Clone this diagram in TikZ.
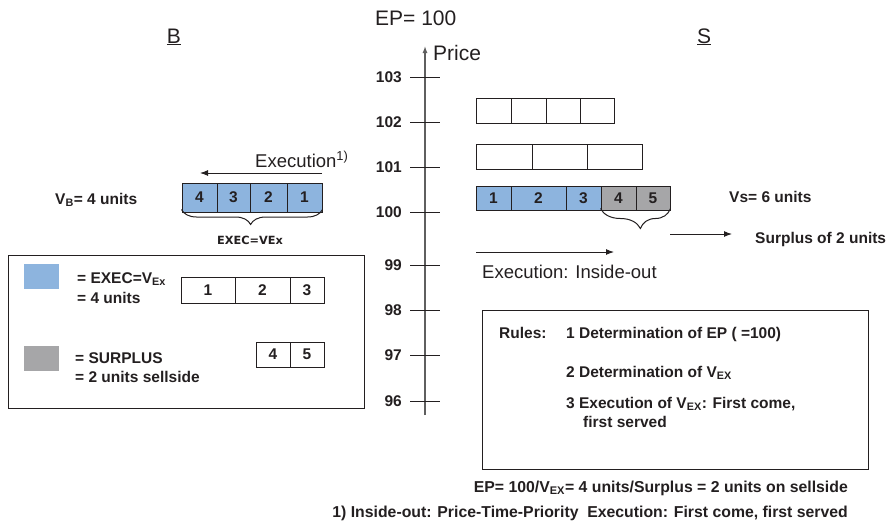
\documentclass[tikz,border=0pt]{standalone}
\usepackage{fontspec}
\setmainfont{Liberation Sans}
\newfontfamily\smallbold{DejaVu Sans}
\usetikzlibrary{arrows.meta,decorations.pathreplacing}
\definecolor{ink}{RGB}{35,31,32}
\definecolor{execblue}{RGB}{141,180,222}
\definecolor{surplusgray}{RGB}{166,166,168}
\definecolor{axisgray}{RGB}{95,95,95}
\tikzset{
  cell/.style={draw=ink, line width=1pt, inner sep=0pt, font=\fontsize{15.5}{18}\selectfont\bfseries, text=ink},
  blue cell/.style={cell, fill=execblue},
  gray cell/.style={cell, fill=surplusgray},
  boldlabel/.style={font=\fontsize{15.5}{18}\selectfont\bfseries, text=ink, inner sep=0pt},
  plainlabel/.style={font=\fontsize{18.5}{22}\selectfont, text=ink, inner sep=0pt},
  biglabel/.style={font=\fontsize{21}{25}\selectfont, text=ink, inner sep=0pt},
  frame/.style={draw=ink, line width=1pt},
  tick/.style={draw=ink, line width=1pt},
  flow/.style={draw=ink, line width=1pt, -{Latex[length=8pt,width=6pt]}},
  curly/.style={draw=ink, line width=1pt, decorate, decoration={brace, mirror}},
}
\begin{document}
\begin{tikzpicture}[x=1pt, y=-1pt]
\useasboundingbox (0,0) rectangle (894,525);

% headings
\node[biglabel, anchor=base west] (ep) at (375,25) {EP= 100};
\node[biglabel, anchor=base] (buyside) at (174,43) {\underline{B}};
\node[biglabel, anchor=base] (sellside) at (704,43) {\underline{S}};

% price axis
\coordinate (axbot) at (425,415);
\coordinate (axtop) at (425,46);
\draw[draw=axisgray, line width=1.3pt, -{Latex[length=7pt,width=5pt]}] (axbot) -- (axtop);
\node[biglabel, anchor=base west] (price) at (433,60) {Price};
\foreach \p/\yy in {103/77,102/122,101/167,100/212,99/265,98/310,97/355,96/401}{
  \coordinate (tl\p) at (410,\yy);
  \coordinate (tr\p) at (440,\yy);
  \draw[tick] (tl\p) -- (tr\p);
  \node[boldlabel, anchor=base east] (lab\p) at (402,\yy+5.5) {\p};
}

% sell orders at 102
\node[cell, minimum width=35pt, minimum height=25pt] (a1) at (493.5,110.5) {};
\node[cell, minimum width=35pt, minimum height=25pt] (a2) at (528.5,110.5) {};
\node[cell, minimum width=34pt, minimum height=25pt] (a3) at (563,110.5) {};
\node[cell, minimum width=34pt, minimum height=25pt] (a4) at (597,110.5) {};
% sell orders at 101
\node[cell, minimum width=56pt, minimum height=25pt] (b1) at (504,156.5) {};
\node[cell, minimum width=55pt, minimum height=25pt] (b2) at (559.5,156.5) {};
\node[cell, minimum width=55pt, minimum height=25pt] (b3) at (614.5,156.5) {};
% sell orders at 100
\node[blue cell, minimum width=35pt, minimum height=24pt] (s1) at (493.5,198) {1};
\node[blue cell, minimum width=55pt, minimum height=24pt] (s2) at (538.5,198) {2};
\node[blue cell, minimum width=35pt, minimum height=24pt] (s3) at (583.5,198) {3};
\node[gray cell, minimum width=35pt, minimum height=24pt] (s4) at (618.5,198) {4};
\node[gray cell, minimum width=34pt, minimum height=24pt] (s5) at (653,198) {5};

\node[boldlabel, anchor=base west] (vs) at (729,202) {Vs= 6 units};
\draw[curly, decoration={amplitude=20pt, aspect=0.57}] ([yshift=2pt]s4.south west) -- ([yshift=2pt]s5.south east);
\node[boldlabel, anchor=base west] (surplus) at (755,243) {Surplus of 2 units};
\coordinate (surfrom) at (670,234);
\draw[flow] (surfrom) -- ([xshift=-23pt]surplus.west |- surfrom);

\coordinate (sellexA) at (476,252);
\coordinate (sellexB) at (614,252);
\draw[flow] (sellexA) -- (sellexB);
\node[plainlabel, anchor=base west] (sellex) at (482,278) {Execution: Inside-out};

% buy orders at 100
\node[blue cell, minimum width=35pt, minimum height=29pt] (u4) at (199.5,197.5) {4};
\node[blue cell, minimum width=33pt, minimum height=29pt] (u3) at (233.5,197.5) {3};
\node[blue cell, minimum width=37pt, minimum height=29pt] (u2) at (268.5,197.5) {2};
\node[blue cell, minimum width=35pt, minimum height=29pt] (u1) at (304.5,197.5) {1};
\node[boldlabel, anchor=base west] (vb) at (55,204) {V\textsubscript{B}= 4 units};
\draw[curly, decoration={amplitude=15pt, aspect=0.49}] ([yshift=3pt]u4.south west) -- ([yshift=3pt]u1.south east);
\node[font=\smallbold\fontsize{11.3}{13}\selectfont\bfseries, text=ink, inner sep=0pt, anchor=base] (execvex) at (250,244) {EXEC=VEx};
\coordinate (buyexA) at (322,173);
\coordinate (buyexB) at (200,173);
\draw[flow] (buyexA) -- (buyexB);
\node[plainlabel, anchor=base west] (buyex) at (255,167) {Execution\textsuperscript{1)}};

% legend
\draw[frame] (8,255) rectangle (364,408);
\fill[execblue] (24,264) rectangle (59,289);
\fill[surplusgray] (24,346) rectangle (59,371);
\node[boldlabel, anchor=base west] (legA) at (77,283) {= EXEC=V\textsubscript{Ex}};
\node[boldlabel, anchor=base west] (legB) at (77,303) {= 4 units};
\node[boldlabel, anchor=base west] (legC) at (75,363) {= SURPLUS};
\node[boldlabel, anchor=base west] (legD) at (75,382) {= 2 units sellside};
\node[cell, minimum width=54pt, minimum height=26pt] (l1) at (208,290) {1};
\node[cell, minimum width=55pt, minimum height=26pt] (l2) at (262.5,290) {2};
\node[cell, minimum width=34pt, minimum height=26pt] (l3) at (307,290) {3};
\node[cell, minimum width=34pt, minimum height=25pt] (l4) at (273,354.5) {4};
\node[cell, minimum width=34pt, minimum height=25pt] (l5) at (307,354.5) {5};

% rules
\draw[frame] (482,310) rectangle (868,469);
\node[boldlabel, anchor=base west] (rules) at (499,338) {Rules:};
\node[boldlabel, anchor=base west] (r1) at (566,338) {1 Determination of EP ( =100)};
\node[boldlabel, anchor=base west] (r2) at (566,377) {2 Determination of V\textsubscript{EX}};
\node[boldlabel, anchor=base west] (r3) at (566,408) {3 Execution of V\textsubscript{EX}: First come,};
\node[boldlabel, anchor=base west] (r4) at (583,427) {first served};

% summary lines
\node[boldlabel, font=\fontsize{15.8}{18}\selectfont\bfseries, anchor=base east] (sum1) at (848,492) {EP= 100/V\textsubscript{EX}= 4 units/Surplus = 2 units on sellside};
\node[boldlabel, font=\fontsize{15.8}{18}\selectfont\bfseries, anchor=base east] (sum2) at (848,517) {1) Inside-out: Price-Time-Priority\ \ Execution: First come, first served};
\end{tikzpicture}
\end{document}
